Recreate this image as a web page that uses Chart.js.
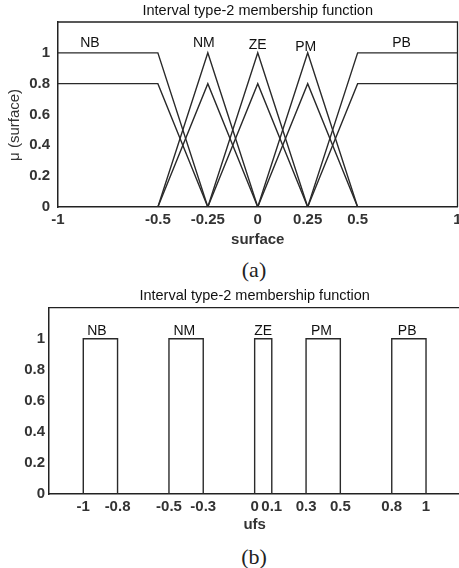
<!DOCTYPE html>
<html>
<head>
<meta charset="utf-8">
<script src="https://cdn.jsdelivr.net/npm/chart.js@4/dist/chart.umd.min.js"></script>
<style>
  html, body { margin: 0; padding: 0; background: #fff; }
  body { width: 459px; height: 568px; overflow: hidden; position: relative; }
  canvas { position: absolute; left: 0; }
  #chartA { top: 0; }
  #chartB { top: 280px; }
  .cap { position: absolute; font-family: "Liberation Serif", "Times New Roman", serif; font-size: 22px; color: #222; transform: translate(-50%, -50%); }
</style>
</head>
<body>
<canvas id="chartA" width="459" height="250" style="width:459px;height:250px"></canvas>
<div class="cap" style="left:254px;top:270px">(a)</div>
<canvas id="chartB" width="470" height="260" style="width:470px;height:260px"></canvas>
<div class="cap" style="left:254px;top:557px">(b)</div>
<script>
// (a) interval type-2 sets: x breakpoints, upper and lower memberships
var setNames = ["NB", "NM", "ZE", "PM", "PB"];
var nbX = [-1, -0.5, -0.25], nbUpper = [1, 1, 0], nbLower = [0.8, 0.8, 0];
var nmX = [-0.5, -0.25, 0], nmUpper = [0, 1, 0], nmLower = [0, 0.8, 0];
var zeX = [-0.25, 0, 0.25], zeUpper = [0, 1, 0], zeLower = [0, 0.8, 0];
var pmX = [0, 0.25, 0.5], pmUpper = [0, 1, 0], pmLower = [0, 0.8, 0];
var pbX = [0.25, 0.5, 1], pbUpper = [0, 1, 1], pbLower = [0, 0.8, 0.8];
var xTicksA = [-1, -0.5, -0.25, 0, 0.25, 0.5, 1];
var yTicks = [0, 0.2, 0.4, 0.6, 0.8, 1];
var labelXA = [-0.84, -0.27, 0, 0.24, 0.72];
var labelYA = [1.06, 1.06, 1.05, 1.04, 1.06];

// (b) interval sets
var lowB = [-1, -0.5, 0, 0.3, 0.8];
var highB = [-0.8, -0.3, 0.1, 0.5, 1];
var heightB = [1, 1, 1, 1, 1];
var xTicksB = [-1, -0.8, -0.5, -0.3, 0, 0.1, 0.3, 0.5, 0.8, 1];
var labelXB = [-0.92, -0.41, 0.05, 0.39, 0.89];
var labelYB = [1.05, 1.05, 1.05, 1.05, 1.05];

var ink = "#222";
var fam = "'Liberation Sans', Arial, sans-serif";

function pts(xs, ys) {
    return xs.map(function(x, i) { return { x: x, y: ys[i] } });
}
function lineSet(data) {
    return { data: data, borderColor: "#2a2a2a", borderWidth: 1.4, pointRadius: 0, fill: false, tension: 0 };
}

var setLabels = {
    id: "setLabels",
    afterDatasetsDraw: function(chart, args, opts) {
        var ctx = chart.ctx, x = chart.scales.x, y = chart.scales.y;
        ctx.save();
        ctx.font = "14px " + fam;
        ctx.fillStyle = "#111";
        ctx.textAlign = "center";
        ctx.textBaseline = "middle";
        setNames.forEach(function(n, i) {
            ctx.fillText(n, x.getPixelForValue(opts.xs[i]), y.getPixelForValue(opts.ys[i]));
        });
        ctx.restore();
    }
};

var box = {
    id: "box",
    afterDraw: function(chart) {
        var a = chart.chartArea, ctx = chart.ctx;
        ctx.save();
        ctx.strokeStyle = ink;
        ctx.lineWidth = 1.3;
        ctx.beginPath();
        ctx.moveTo(a.left, a.top);
        ctx.lineTo(a.right, a.top);
        ctx.lineTo(a.right, a.bottom);
        ctx.stroke();
        ctx.restore();
    }
};

function tickList(list) {
    return function(s) { s.ticks = list.map(function(v) { return { value: v } }) };
}

function makeChart(el, o) {
    var tickFont = { family: fam, size: 15, weight: "bold" };
    return new Chart(el, {
        type: "line",
        data: { datasets: o.datasets },
        options: {
            animation: false,
            responsive: false,
            layout: { padding: { left: 0, right: o.padRight, top: 0, bottom: 0 } },
            plugins: {
                legend: { display: false },
                tooltip: { enabled: false },
                title: {
                    display: true,
                    fullSize: false,
                    text: "Interval type-2 membership function",
                    color: "#111",
                    font: { family: fam, size: 14.5, weight: "normal", lineHeight: 1.2 },
                    padding: o.titlePad
                },
                setLabels: { xs: o.labelX, ys: o.labelY }
            },
            scales: {
                x: {
                    type: "linear",
                    min: o.xMin, max: o.xMax,
                    afterBuildTicks: tickList(o.xTicks),
                    afterFit: function(s) { s.height = o.xHeight; s.paddingLeft = 0; s.paddingRight = 0 },
                    grid: { display: false, drawTicks: false },
                    border: { color: ink, width: 1.5 },
                    ticks: {
                        autoSkip: false, maxRotation: 0, padding: o.xPad, color: "#333",
                        font: tickFont,
                        callback: function(v) { return String(v) }
                    },
                    title: {
                        display: true, text: o.xTitle, color: "#333",
                        font: tickFont,
                        padding: { top: 0, bottom: o.xTitlePad }
                    }
                },
                y: {
                    min: 0, max: 1.2,
                    afterBuildTicks: tickList(yTicks),
                    afterFit: function(s) { s.width = o.yWidth; s.paddingTop = 0; s.paddingBottom = 0 },
                    grid: { display: false, drawTicks: false },
                    border: { color: ink, width: 1.5 },
                    ticks: {
                        padding: o.yPad, color: "#333",
                        font: tickFont,
                        callback: function(v) { return String(v) }
                    },
                    title: {
                        display: !!o.yTitle, text: o.yTitle, color: "#333",
                        font: { family: fam, size: 15 },
                        padding: { top: 6, bottom: 0 }
                    }
                }
            }
        },
        plugins: [setLabels, box]
    });
}

var dsA = [
    lineSet(pts(nbX, nbUpper)), lineSet(pts(nbX, nbLower)),
    lineSet(pts(nmX, nmUpper)), lineSet(pts(nmX, nmLower)),
    lineSet(pts(zeX, zeUpper)), lineSet(pts(zeX, zeLower)),
    lineSet(pts(pmX, pmUpper)), lineSet(pts(pmX, pmLower)),
    lineSet(pts(pbX, pbUpper)), lineSet(pts(pbX, pbLower))
];

var dsB = lowB.map(function(lo, i) {
    var hi = highB[i], h = heightB[i];
    return lineSet(pts([lo, lo, hi, hi], [0, h, h, 0]));
});

makeChart(document.getElementById("chartA"), {
    datasets: dsA, padRight: 1.5,
    titlePad: { top: 2.3, bottom: 2.3 },
    xMin: -1, xMax: 1, xTicks: xTicksA, xHeight: 43, xPad: 4,
    xTitle: "surface", xTitlePad: 1,
    yWidth: 58, yPad: 8, yTitle: "\u03bc (surface)\u00a0\u00a0\u00a0\u00a0\u00a0",
    labelX: labelXA, labelY: labelYA
});

makeChart(document.getElementById("chartB"), {
    datasets: dsB, padRight: 9.7,
    titlePad: { top: 7, bottom: 3.3 },
    xMin: -1.2, xMax: 1.2, xTicks: xTicksB, xHeight: 46, xPad: 3.7,
    xTitle: "ufs", xTitlePad: 6,
    yWidth: 49, yPad: 4, yTitle: "",
    labelX: labelXB, labelY: labelYB
});
</script>
</body>
</html>
